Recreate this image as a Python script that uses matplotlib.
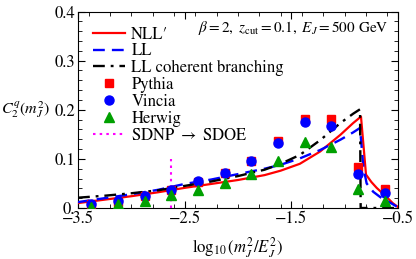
import matplotlib
matplotlib.use('Agg')
import matplotlib.pyplot as plt
from matplotlib.ticker import MultipleLocator, FixedLocator

plt.rcParams['font.family'] = 'STIXGeneral'
plt.rcParams['mathtext.fontset'] = 'stix'

# analytic curves
nll_x = [-3.5, -3.25, -3.0, -2.75, -2.5, -2.25, -2.0, -1.75, -1.6, -1.42, -1.23, -1.04,
         -0.92, -0.847, -0.80, -0.75, -0.70, -0.65, -0.60, -0.55, -0.5]
nll_y = [0.010, 0.017, 0.024, 0.032, 0.041, 0.049, 0.057, 0.067, 0.076, 0.090, 0.115, 0.149,
         0.173, 0.186, 0.068, 0.053, 0.041, 0.031, 0.021, 0.010, 0.002]

ll_x = [-3.5, -3.25, -3.0, -2.75, -2.5, -2.25, -2.0, -1.75, -1.6, -1.42, -1.23, -1.04,
        -0.92, -0.856, -0.825, -0.794, -0.732, -0.653, -0.575, -0.512]
ll_y = [0.012, 0.020, 0.028, 0.037, 0.049, 0.058, 0.069, 0.080, 0.088, 0.101, 0.118, 0.139,
        0.154, 0.163, 0.084, 0.050, 0.033, 0.020, 0.011, 0.003]

coh_x = [-3.5, -3.25, -3.0, -2.75, -2.5, -2.25, -2.0, -1.75, -1.6, -1.42, -1.23, -1.04,
         -0.92, -0.856, -0.85, -0.5]
coh_y = [0.021, 0.025, 0.030, 0.036, 0.045, 0.054, 0.065, 0.078, 0.090, 0.108, 0.138, 0.173,
         0.192, 0.201, 0.0, 0.0]

# Monte Carlo points
mc_x = [-3.375, -3.125, -2.875, -2.625, -2.375, -2.125, -1.875, -1.625, -1.375, -1.125, -0.875, -0.625]
pythia = [0.0075, 0.013, 0.025, 0.037, 0.053, 0.072, 0.096, 0.137, 0.182, 0.182, 0.084, 0.039]
vincia = [0.008, 0.014, 0.024, 0.037, 0.054, 0.071, 0.095, 0.132, 0.175, 0.166, 0.069, 0.031]
herwig = [0.003, 0.0075, 0.015, 0.0265, 0.037, 0.050, 0.069, 0.096, 0.134, 0.125, 0.039, 0.014]

sdnp_x = -2.63
sdnp_top = 0.1

xticks = [-3.5, -2.5, -1.5, -0.5]
xticklabels = ['\u22123.5', '\u22122.5', '\u22121.5', '\u22120.5']
yticks = [0.0, 0.1, 0.2, 0.3, 0.4]
yticklabels = ['0.', '0.1', '0.2', '0.3', '0.4']

fig = plt.figure(figsize=(4.16, 2.59), dpi=100)
ax = fig.add_axes([78/416, 1-208/259, 320/416, 196.5/259])

ax.plot(nll_x, nll_y, color='#ff0000', lw=1.6, label='NLL\u2032', zorder=3)
ax.plot(ll_x, ll_y, color='#0000ff', lw=1.7, ls=(0, (5, 3)), label='LL', zorder=3)
ax.plot(coh_x, coh_y, color='black', lw=1.7, ls=(0, (5, 2.5, 1.2, 2.5)),
        label='LL coherent branching', zorder=3)
ax.plot(mc_x, pythia, ls='none', marker='s', ms=6, color='#ff0000', label='Pythia', zorder=4)
ax.plot(mc_x, vincia, ls='none', marker='o', ms=6.5, color='#0000ff', label='Vincia', zorder=5)
ax.plot(mc_x, herwig, ls='none', marker='^', ms=6.5, color='#00a000', label='Herwig', zorder=6)
ax.plot([sdnp_x, sdnp_x], [0, sdnp_top], color='#ff00ff', lw=1.5, ls=(0, (1.2, 2)),
        label=r'SDNP $\rightarrow$ SDOE', zorder=3)

ax.set_xlim(-3.5, -0.5)
ax.set_ylim(0, 0.4)
ax.xaxis.set_major_locator(FixedLocator(xticks))
ax.set_xticklabels(xticklabels)
ax.xaxis.set_minor_locator(MultipleLocator(0.2))
ax.yaxis.set_major_locator(FixedLocator(yticks))
ax.set_yticklabels(yticklabels)
ax.yaxis.set_minor_locator(MultipleLocator(0.02))
ax.tick_params(which='both', direction='in', top=True, right=True, labelsize=12, pad=2)
ax.tick_params(which='major', length=5, width=0.8)
ax.tick_params(which='minor', length=2.8, width=0.6)
for s in ax.spines.values():
    s.set_linewidth(0.8)

ax.set_xlabel(r'$\log_{10}(m_J^2/E_J^2)$', fontsize=12, labelpad=6)
ax.set_ylabel(r'$C_2^q(m_J^2)$', fontsize=11.5, rotation=0, ha='right', va='center')
ax.yaxis.set_label_coords(-0.085, 0.5)

ax.text(0.97, 0.915, r'$\beta = 2,\ z_{\rm cut} = 0.1,\ E_J = 500$ GeV', transform=ax.transAxes,
        ha='right', va='center', fontsize=11)

ax.legend(loc='upper left', frameon=False, fontsize=12, handlelength=1.9, handletextpad=0.4,
          labelspacing=0.05, borderaxespad=0.6, borderpad=0.3, numpoints=1)

fig.savefig('out.png', dpi=100)
